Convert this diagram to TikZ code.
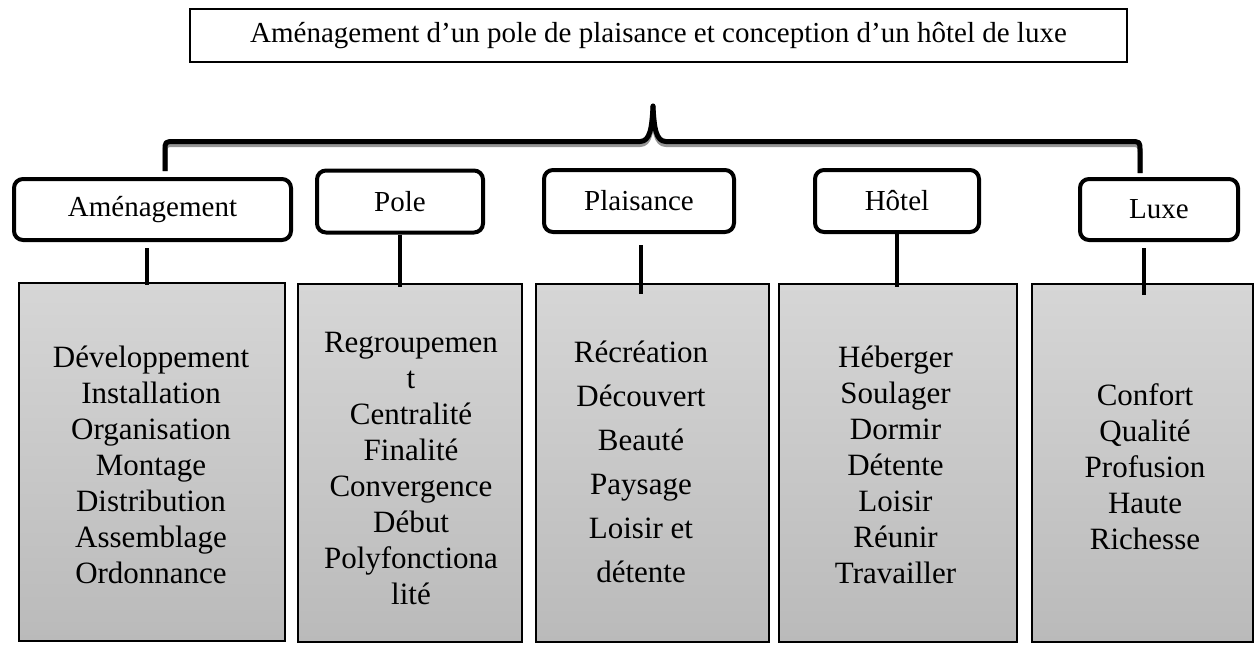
\documentclass[tikz,border=0pt]{standalone}
\usepackage{fontspec}
\setmainfont{Liberation Serif}
\newcommand{\fsbody}{\fontsize{31}{36}\selectfont}
\newcommand{\fsbodywide}{\fontsize{31}{44}\selectfont}
\newcommand{\fslabel}{\fontsize{29}{34}\selectfont}
\definecolor{boxtop}{RGB}{214,214,214}
\definecolor{boxbot}{RGB}{186,186,186}
\definecolor{shadowgray}{RGB}{150,150,150}
\begin{document}
\begin{tikzpicture}[x=1pt,y=-1pt,
  titlebox/.style={draw, line width=1.6pt, inner sep=0pt, minimum height=53.4pt, font=\fslabel},
  catbox/.style={draw, line width=4pt, rounded corners=9pt, inner sep=0pt, fill=white, minimum height=61pt, font=\fslabel},
  listbox/.style={draw, line width=1.8pt, inner sep=0pt, top color=boxtop, bottom color=boxbot, minimum height=358.2pt},
  listtext/.style={align=center, inner sep=0pt, font=\fsbody},
  stub/.style={line width=4pt, line cap=butt},
  bracestyle/.style={line width=5pt, line cap=butt, line join=round}
]
\useasboundingbox (0,0) rectangle (1258,646);

% title
\node[titlebox, minimum width=937.4pt] (title) at (658.5,35.5)
  {Aménagement d’un pole de plaisance et conception d’un hôtel de luxe};

% brace (shadow then black)
\coordinate (bl) at (165,171);
\coordinate (bt) at (653,106);
\coordinate (br) at (1140,173);
\begin{scope}[yshift=-3pt]
\draw[bracestyle, shadowgray] (bl) -- (165,151) .. controls (165,141.5) .. (175,141.5) -- (640,141.5)
  .. controls (650,141.5) and (652,128) .. (bt) .. controls (654,128) and (656,141.5) .. (666,141.5)
  -- (1130,141.5) .. controls (1140,141.5) .. (1140,151) -- (br);
\end{scope}
\draw[bracestyle] (bl) -- (165,151) .. controls (165,141.5) .. (175,141.5) -- (640,141.5)
  .. controls (650,141.5) and (652,128) .. (bt) .. controls (654,128) and (656,141.5) .. (666,141.5)
  -- (1130,141.5) .. controls (1140,141.5) .. (1140,151) -- (br);

% category boxes
\node[catbox, minimum width=277pt] (a) at (152.5,209.5) {Aménagement};
\node[catbox, minimum width=166pt, minimum height=62pt] (b) at (400,201.5) {Pole};
\node[catbox, minimum width=190pt, minimum height=62pt] (c) at (639,201) {Plaisance};
\node[catbox, minimum width=164pt, minimum height=62pt] (d) at (897,201) {Hôtel};
\node[catbox, minimum width=158pt] (e) at (1159,209.5) {Luxe};

% list boxes
\node[listbox, minimum width=266.2pt] (g1) at (152,462) {};
\node[listbox, minimum width=224.2pt] (g2) at (410,463) {};
\node[listbox, minimum width=233.2pt] (g3) at (652.5,463) {};
\node[listbox, minimum width=238.2pt] (g4) at (898,463) {};
\node[listbox, minimum width=221.2pt] (g5) at (1142.5,463) {};

% list texts
\node[listtext] (t1) at (151,465) {Développement\\Installation\\Organisation\\Montage\\Distribution\\Assemblage\\Ordonnance};
\node[listtext] (t2) at (411,468) {Regroupemen\\t\\Centralité\\Finalité\\Convergence\\Début\\Polyfonctiona\\lité};
\node[listtext, font=\fsbodywide] (t3) at (641,462) {Récréation\\Découvert\\Beauté\\Paysage\\Loisir et\\détente};
\node[listtext] (t4) at (895.5,465) {Héberger\\Soulager\\Dormir\\Détente\\Loisir\\Réunir\\Travailler};
\node[listtext] (t5) at (1145,467) {Confort\\Qualité\\Profusion\\Haute\\Richesse};

% stubs
\draw[stub] ([xshift=-6pt,yshift=-6pt]a.south) -- ([xshift=-5.5pt,yshift=-3pt]g1.north);
\draw[stub] (b.south) -- ([xshift=-10pt,yshift=-4pt]g2.north);
\draw[stub] ([xshift=2pt,yshift=-11pt]c.south) -- ([xshift=-11.5pt,yshift=-11pt]g3.north);
\draw[stub] (d.south) -- ([xshift=-1pt,yshift=-4pt]g4.north);
\draw[stub] ([xshift=-15pt,yshift=-6pt]e.south) -- ([xshift=1.5pt,yshift=-12pt]g5.north);
\end{tikzpicture}
\end{document}
